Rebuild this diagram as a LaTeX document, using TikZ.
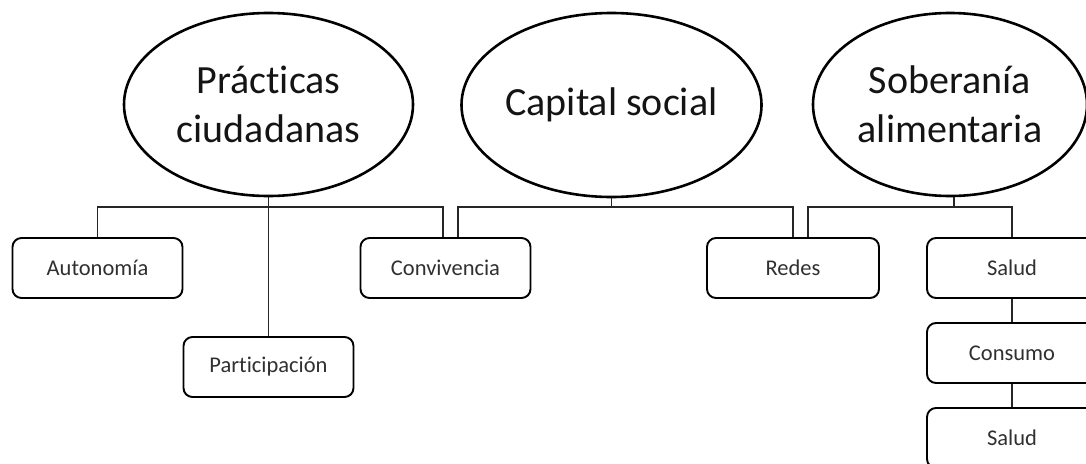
\documentclass[tikz,border=0pt]{standalone}
\usepackage{fontspec}
\setmainfont{Carlito}[Ligatures=NoCommon]
\usetikzlibrary{shapes.geometric}
\definecolor{txt}{HTML}{303030}
\tikzset{
  oval/.style={draw=black, ellipse, line width=2.6pt, inner sep=0pt, align=center,
    text=black!92, font=\fontsize{40}{49}\selectfont},
  leaf/.style={draw=black, rectangle, rounded corners=9pt, line width=1.9pt,
    minimum width=170pt, minimum height=60pt, inner sep=0pt, text=txt,
    font=\fontsize{22.5}{27}\selectfont},
  conn/.style={draw=black!85, line width=1.2pt}
}
\begin{document}
\begin{tikzpicture}[x=1pt,y=-1pt]
\useasboundingbox (0,0) rectangle (1086,463);
\clip (0,0) rectangle (1086,463);
\coordinate (barY) at (0,207);
% ellipses
\node[oval, minimum width=289pt, minimum height=183pt] (pc) at (268.5,104.5) {Prácticas\\ciudadanas};
\node[oval, minimum width=290pt, minimum height=184pt] (cs) at (611.5,105) {Capital social};
\node[oval, minimum width=274pt, minimum height=183pt] (sa) at (950,104.5) {Soberanía\\alimentaria};
% boxes
\node[leaf] (auto) at (97.5,268) {Autonomía};
\node[leaf] (conv) at (445.5,268) {Convivencia};
\node[leaf, minimum width=172pt] (redes) at (793,268) {Redes};
\node[leaf] (part) at (268.5,367) {Participación};
\node[leaf] (salud1) at (1012,268) {Salud};
\node[leaf] (cons) at (1012,353) {Consumo};
\node[leaf] (salud2) at (1012,438) {Salud};
% connectors: Prácticas ciudadanas
\draw[conn] (pc.south) -- (part.north);
\draw[conn] (auto.north) |- ([xshift=-2.5pt]conv.north |- barY) -- ([xshift=-2.5pt]conv.north);
% Capital social
\draw[conn] (cs.south) -- (cs.south |- barY);
\draw[conn] ([xshift=12.5pt]conv.north) |- (redes.north |- barY) -- (redes.north);
% Soberanía alimentaria
\draw[conn] ([xshift=4pt]sa.south) -- ([xshift=4pt]sa.south |- barY);
\draw[conn] ([xshift=15pt]redes.north) |- (salud1.north |- barY) -- (salud1.north);
\draw[conn] (salud1.south) -- (cons.north);
\draw[conn] (cons.south) -- (salud2.north);
\end{tikzpicture}
\end{document}
